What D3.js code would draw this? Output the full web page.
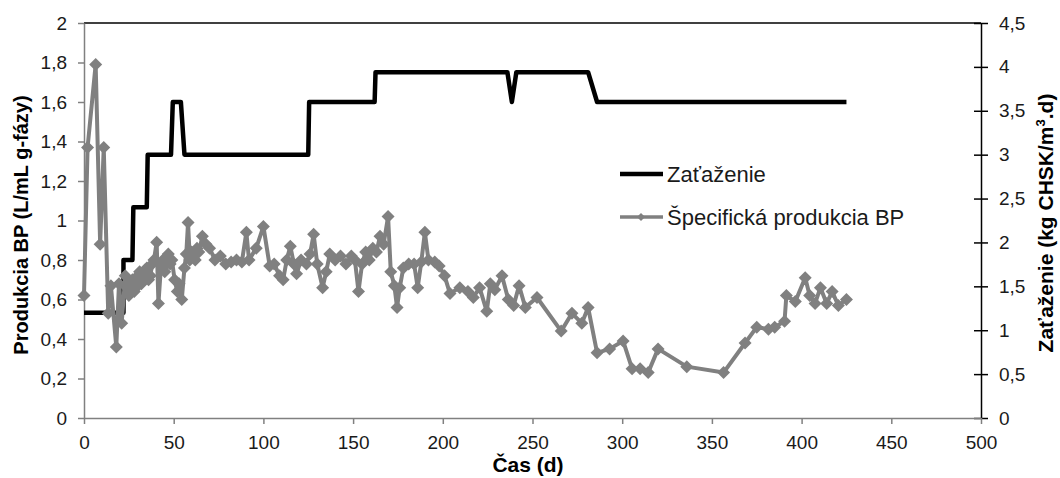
<!DOCTYPE html>
<html>
<head>
<meta charset="utf-8">
<script src="https://cdn.jsdelivr.net/npm/d3@7"></script>
<style>
  body { margin: 0; background: #fff; }
  svg { display: block; font-family: "Liberation Sans", Arial, sans-serif; }
</style>
</head>
<body>
<div id="chart"></div>
<script>
// Zaťaženie (right axis) - day, value
var loadDays = [0, 22, 22, 27, 27.5, 35, 35.5, 48.5, 49.5, 54, 56, 125, 125.5, 162, 162.5, 236, 238.5, 241, 281, 286, 425];
var loadVals = [1.2, 1.2, 1.8, 1.8, 2.4, 2.4, 3.0, 3.0, 3.6, 3.6, 3.0, 3.0, 3.6, 3.6, 3.94, 3.94, 3.6, 3.94, 3.94, 3.6, 3.6];

// Špecifická produkcia BP (left axis) - day, value
var prodDays = [0, 2, 6.5, 9, 11, 13.5, 15, 18, 19.5, 21, 23, 24, 25, 26, 27, 28, 29, 30, 31, 32, 33, 34, 35, 36, 37, 38, 39, 40.5,
  41.5, 43, 44, 45, 46, 47, 48, 49, 50.5, 52, 53, 54.5, 56, 57, 58, 59, 60, 61, 62, 63, 64, 66, 68, 70, 73, 76, 79,
  82, 85, 88, 90.5, 92, 96, 100, 103.5, 106, 109, 111, 113, 115, 117, 118.5, 121, 124, 126, 128, 130,
  133, 135, 137, 140, 143, 146, 149, 151, 153, 155, 157, 159, 161, 163, 165, 167, 169.5, 171, 173, 174.5,
  176, 178, 181, 184, 186, 188, 190, 192, 195.5, 198, 201, 204, 209.5, 214, 217, 220.5, 224.5, 226.5, 229, 233,
  236.5, 239.5, 242.5, 246, 252.5, 266, 272, 277.5, 281, 286, 293, 300.5, 305.5, 310, 314.5, 320, 336, 356.5, 368.5, 375,
  381.5, 385, 390.5, 391.5, 396.5, 402, 404.5, 407.5, 410.5, 414, 417, 420.5, 425];
var prodVals = [0.62, 1.37, 1.79, 0.88, 1.37, 0.53, 0.67, 0.36, 0.68, 0.48, 0.72, 0.66, 0.62, 0.68, 0.70, 0.64, 0.66, 0.72, 0.74, 0.68, 0.70, 0.75, 0.76, 0.70, 0.72, 0.78, 0.80, 0.89,
  0.58, 0.78, 0.80, 0.74, 0.78, 0.83, 0.78, 0.80, 0.70, 0.64, 0.68, 0.60, 0.76, 0.83, 0.99, 0.80, 0.84, 0.82, 0.80, 0.86, 0.84, 0.92, 0.88, 0.86, 0.80, 0.82, 0.78,
  0.79, 0.80, 0.79, 0.94, 0.80, 0.86, 0.97, 0.77, 0.78, 0.72, 0.70, 0.80, 0.87, 0.78, 0.73, 0.80, 0.78, 0.83, 0.93, 0.78,
  0.66, 0.74, 0.83, 0.80, 0.82, 0.78, 0.82, 0.80, 0.64, 0.78, 0.84, 0.80, 0.86, 0.84, 0.92, 0.88, 1.02, 0.74, 0.67, 0.56,
  0.66, 0.76, 0.78, 0.78, 0.66, 0.79, 0.94, 0.80, 0.79, 0.77, 0.72, 0.63, 0.66, 0.64, 0.61, 0.66, 0.54, 0.68, 0.65, 0.72,
  0.60, 0.57, 0.67, 0.56, 0.61, 0.44, 0.53, 0.48, 0.56, 0.33, 0.35, 0.39, 0.25, 0.25, 0.23, 0.35, 0.26, 0.23, 0.38, 0.46,
  0.45, 0.46, 0.49, 0.62, 0.59, 0.71, 0.62, 0.58, 0.66, 0.58, 0.64, 0.57, 0.60];

var xTicks = [0, 50, 100, 150, 200, 250, 300, 350, 400, 450, 500];
var leftTicks = [0, 0.2, 0.4, 0.6, 0.8, 1, 1.2, 1.4, 1.6, 1.8, 2];
var rightTicks = [0, 0.5, 1, 1.5, 2, 2.5, 3, 3.5, 4, 4.5];

var svgWidth = 1060, svgHeight = 478;
var plot = { left: 84, right: 981, top: 23, bottom: 418 };
var gray = "#808080";

var svg = d3.select("#chart").append("svg")
  .attr("width", svgWidth)
  .attr("height", svgHeight);

var x = d3.scaleLinear().domain([0, 500]).range([plot.left, plot.right]);
var yL = d3.scaleLinear().domain([0, 2]).range([plot.bottom, plot.top]);
var yR = d3.scaleLinear().domain([0, 4.5]).range([plot.bottom, plot.top]);

var comma = function(d) { return String(d).replace(".", ","); };

// top border
svg.append("line")
  .attr("x1", plot.left).attr("x2", plot.right)
  .attr("y1", plot.top).attr("y2", plot.top)
  .attr("stroke", "#000").attr("stroke-width", 1.5);

// right axis (black, cross ticks)
var rAxis = svg.append("g")
  .attr("transform", `translate(${plot.right},0)`)
  .call(d3.axisRight(yR).tickValues(rightTicks).tickFormat(comma).tickSizeInner(7).tickSizeOuter(0).tickPadding(11));
rAxis.selectAll(".tick line").attr("x1", -7).attr("stroke", "#000").attr("stroke-width", 1.5);
rAxis.select(".domain").attr("stroke", "#000").attr("stroke-width", 1.5);

// left axis (gray)
var lAxis = svg.append("g")
  .attr("transform", `translate(${plot.left},0)`)
  .call(d3.axisLeft(yL).tickValues(leftTicks).tickFormat(comma).tickSizeInner(6).tickSizeOuter(0).tickPadding(11));
lAxis.selectAll(".tick line").attr("stroke", gray).attr("stroke-width", 1.5);
lAxis.select(".domain").attr("stroke", gray).attr("stroke-width", 1.5);

// bottom axis (gray)
var bAxis = svg.append("g")
  .attr("transform", `translate(0,${plot.bottom})`)
  .call(d3.axisBottom(x).tickValues(xTicks).tickSizeInner(6).tickSizeOuter(0).tickPadding(12));
bAxis.selectAll(".tick line").attr("stroke", gray).attr("stroke-width", 1.5);
bAxis.select(".domain").attr("stroke", gray).attr("stroke-width", 1.5);

svg.selectAll(".tick text")
  .attr("font-size", 19)
  .attr("font-family", "Liberation Sans, Arial, sans-serif")
  .attr("fill", "#1a1a1a");

// series: Zaťaženie
var loadData = loadDays.map(function(d, i) { return { x: d, y: loadVals[i] }; });
svg.append("path")
  .datum(loadData)
  .attr("fill", "none")
  .attr("stroke", "#000")
  .attr("stroke-width", 4.5)
  .attr("stroke-linejoin", "round")
  .attr("d", d3.line().x(d => x(d.x)).y(d => yR(d.y)));

// series: Špecifická produkcia BP
var prodData = prodDays.map(function(d, i) { return { x: d, y: prodVals[i] }; });
svg.append("path")
  .datum(prodData)
  .attr("fill", "none")
  .attr("stroke", gray)
  .attr("stroke-width", 4)
  .attr("stroke-linejoin", "round")
  .attr("d", d3.line().x(d => x(d.x)).y(d => yL(d.y)));

var diamond = function(r) { return `M0,${-r}L${r},0L0,${r}L${-r},0Z`; };
svg.selectAll(".pt")
  .data(prodData)
  .enter()
  .append("path")
  .attr("class", "pt")
  .attr("transform", d => `translate(${x(d.x)},${yL(d.y)})`)
  .attr("d", diamond(6.5))
  .attr("fill", gray);

// axis titles
svg.append("text")
  .attr("transform", "translate(28,225) rotate(-90)")
  .attr("text-anchor", "middle")
  .attr("font-size", 20)
  .attr("font-weight", "bold")
  .attr("fill", "#000")
  .text("Produkcia BP (L/mL g-fázy)");

var rTitle = svg.append("text")
  .attr("transform", "translate(1053,223) rotate(-90)")
  .attr("text-anchor", "middle")
  .attr("font-size", 21)
  .attr("font-weight", "bold")
  .attr("fill", "#000");
rTitle.append("tspan").text("Zaťaženie (kg CHSK/m");
rTitle.append("tspan").attr("font-size", 13).attr("dy", -8).text("3");
rTitle.append("tspan").attr("dy", 8).text(".d)");

svg.append("text")
  .attr("x", 528)
  .attr("y", 472)
  .attr("text-anchor", "middle")
  .attr("font-size", 21)
  .attr("font-weight", "bold")
  .attr("fill", "#000")
  .text("Čas (d)");

// legend
var legend = svg.append("g");
legend.append("line")
  .attr("x1", 620).attr("x2", 663).attr("y1", 174).attr("y2", 174)
  .attr("stroke", "#000").attr("stroke-width", 4.5);
legend.append("text")
  .attr("x", 667).attr("y", 182)
  .attr("font-size", 22).attr("fill", "#1a1a1a")
  .text("Zaťaženie");
legend.append("line")
  .attr("x1", 620).attr("x2", 663).attr("y1", 217).attr("y2", 217)
  .attr("stroke", gray).attr("stroke-width", 3.5);
legend.append("path")
  .attr("transform", "translate(641,217)")
  .attr("d", diamond(4))
  .attr("fill", gray);
legend.append("text")
  .attr("x", 667).attr("y", 225)
  .attr("font-size", 22).attr("fill", "#1a1a1a")
  .text("Špecifická produkcia BP");
</script>
</body>
</html>
